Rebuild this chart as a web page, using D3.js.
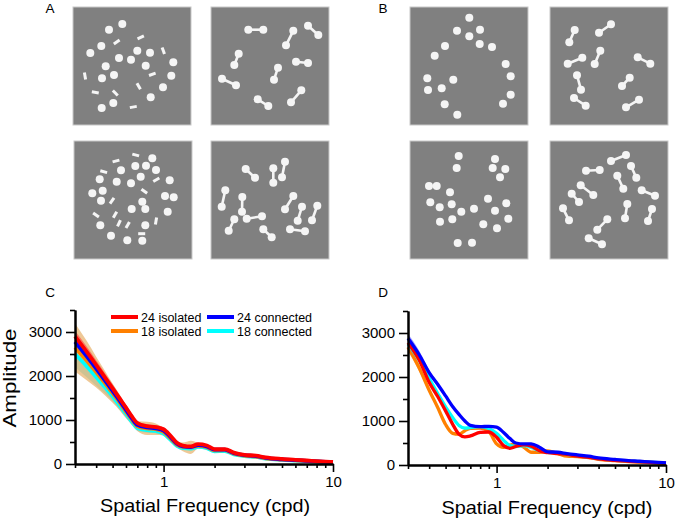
<!DOCTYPE html>
<html><head><meta charset="utf-8">
<script src="https://cdn.jsdelivr.net/npm/d3@7"></script>
<style>
body{margin:0;background:#fff}
text{font-family:"Liberation Sans",Arial,sans-serif;fill:#000}
</style></head>
<body><svg id="fig" width="675" height="520"></svg>
<script>
// ---------- stimulus data (coordinates in a 118-unit square) ----------
const aTopDots = [[49.3,17],[36,22.7],[28.3,39],[17.3,46],[64.3,43.7],[77,45.7],[46,51],[58,52.7],[32.7,59.3],[72.7,58.7],[100.3,55.3],[41,68],[29,71.3],[98.3,68.7],[90,80.3],[77.7,90.3],[40.3,96],[28.7,101]];
const aTopBars = [[43.7,35,-35],[67.7,30.3,-25],[90.3,43.7,70],[12,69,80],[79.3,67.3,-20],[22.3,85.3,10],[42.3,86,45],[65.7,79.3,60],[60.3,100,-10]];
const aTopPairs = [[37.3,22.7,52.3,22.7],[82.3,23.7,75,38.3],[97,18.7,107.3,28],[27.7,46.7,23.3,58],[85,54.7,97,56],[67,60.7,63,72.7],[11,71.7,25,78.3],[90.3,83.3,80,95.3],[46.7,92.3,57.3,99]];
const aBotDots = [[78.3,17.3],[61.3,25],[72,24.7],[47,29.3],[82,29],[25.7,38.3],[42.7,40.7],[57,42.3],[66.7,35.7],[95.7,39.3],[18.3,52.3],[28.7,49.7],[27,59.7],[91,55],[99.7,56.3],[68.3,60.7],[57.7,68],[71.3,68],[93.7,70.7],[26.3,84.3],[71.3,84.3],[37,94.7],[53.3,99.3],[68.3,99.7]];
const aBotBars = [[61.7,14,15],[42,20,-15],[29.7,30.7,15],[82.3,38.7,-30],[70.3,50.3,35],[38,59.7,-55],[22,74,35],[41,73.7,-60],[45,82.3,-65],[53.7,84,-60],[82,80,-80],[67.7,92.7,0]];
const aBotPairs = [[34.7,28,44,36.7],[62.3,27.3,62.3,41.7],[74,20.7,71,36.3],[14.3,49.3,10.7,65.7],[31.3,56,31,70.7],[82.3,55,74,68.3],[91,65.7,86.7,79.7],[106.3,64.7,101,79.3],[23.3,78.3,17.7,89.7],[35.7,77.7,51,75.3],[52.3,88.3,60.7,96.3],[79,88.3,94,90.3]];
const bTopDots = [[59.3,10.7],[47,23.7],[70,22.7],[59.3,29.3],[69.7,37],[82,40],[35,39],[24.7,48.7],[95.7,57],[100.7,69.3],[17.3,71.3],[43.3,72.7],[18,83],[31.7,81.3],[100.7,87.7],[93,96.7],[34.7,97.3],[47.3,107.7]];
const bTopPairs = [[24.7,23,19.3,35.3],[61,17.3,49,25.7],[32.3,50.7,17.7,56.7],[50.3,43.7,44.7,57],[87.7,50.3,100.3,56.7],[27,68.3,31,82.7],[79.7,70.7,72,79],[24,91,35.7,98.7],[89,92.7,76,100.3]];
const bBotDots = [[48.7,15],[46.7,27],[85,18],[82.7,27],[95.3,28],[90,36.3],[19,45],[26.7,45],[40,51.3],[20.3,61.3],[29.7,66.3],[41.7,63.3],[51.3,70.7],[64,67.7],[78,57.7],[85,69.7],[96.3,62.3],[98.3,77.7],[30,80.7],[42.3,78.3],[73.3,83.3],[87,87.3],[47.7,102],[62,101.7]];
const bBotPairs = [[36,29.7,49.7,29],[61,20,76,14],[81,25,86.3,36.7],[67.3,34.7,73.3,47.7],[30.7,44.3,43.3,54],[21.7,52.7,29,61],[91.7,49.3,105,54.7],[13,67.3,19,79.3],[77.3,63,75,77.3],[102,68,98,80],[57.3,78.3,47.3,88.7],[38.7,97.3,52,103.3]];

// ---------- spectrum data ----------
const freq = [0.3,0.35,0.4,0.45,0.5,0.55,0.6,0.65,0.7,0.8,0.9,1.0,1.1,1.2,1.3,1.45,1.6,1.8,2.0,2.3,2.6,3,3.5,4,5,6,7,8,10];
const seriesNames = ["24 isolated","18 isolated","24 connected","18 connected"];
const seriesColors = ["#ff0000","#ff8000","#0000ff","#00ffff"];
const xMajorTicks = [1,10];
const xMinorTicks = [0.3,0.4,0.5,0.6,0.7,0.8,0.9,2,3,4,5,6,7,8,9];
const yMajorTicks = [0,1000,2000,3000];
const yMinorTicks = [500,1500,2500,3500];

// Panel C
const cRed    = [2900,2560,2250,1970,1720,1490,1280,1080,930,860,840,790,640,480,420,400,450,420,340,340,260,210,190,150,115,95,80,65,45];
const cRedSd  = [130,120,110,100,90,80,70,60,50,40,40,40,35,30,30,30,30,25,25,25,20,20,15,15,12,10,10,10,8];
const cOrange = [2650,2360,2090,1840,1610,1400,1190,1010,860,810,790,730,580,440,390,380,415,385,310,315,235,190,170,130,100,82,68,55,38];
const cOrangeSd=[550,450,350,280,220,180,150,120,110,150,130,80,60,60,100,150,70,40,40,40,30,25,20,15,12,10,10,10,8];
const cBlue   = [2780,2460,2170,1900,1660,1440,1230,1040,890,830,810,760,610,460,400,385,430,400,325,325,245,200,180,140,105,88,72,58,40];
const cBlueSd = [100,90,80,75,70,60,55,50,40,35,35,35,30,25,25,25,25,20,20,20,15,15,12,12,10,8,8,8,6];
const cCyan   = [2500,2230,1980,1750,1540,1330,1140,960,820,770,750,690,550,410,360,350,390,360,290,295,220,180,160,125,95,78,64,52,36];
const cCyanSd = [300,250,200,150,120,100,90,80,70,60,50,45,40,35,35,35,30,25,25,20,18,15,12,12,10,8,8,8,6];

// Panel D
const dRed    = [2780,2380,1880,1550,1230,930,700,640,660,740,750,630,440,380,420,460,430,320,280,260,240,200,175,140,105,85,70,58,40];
const dRedSd  = [60,50,40,35,30,25,20,20,20,20,20,20,15,15,15,15,15,12,12,10,10,10,8,8,6,6,5,5,4];
const dOrange = [2680,2200,1700,1300,920,720,700,780,830,840,760,480,400,450,480,400,290,290,320,260,200,190,170,130,100,80,68,55,38];
const dOrangeSd=[90,80,60,50,40,30,25,25,25,25,25,20,15,15,15,15,15,12,12,10,10,10,8,8,6,6,5,5,4];
const dBlue   = [2880,2500,2100,1830,1570,1330,1150,1000,900,870,880,860,740,600,500,480,480,400,300,290,260,230,200,160,125,100,85,70,50];
const dBlueSd = [110,90,60,45,35,30,25,25,20,20,20,20,15,15,15,15,15,12,12,10,10,10,8,8,6,6,5,5,4];
const dCyan   = [2750,2380,1970,1620,1320,1080,900,840,850,870,830,720,560,440,420,440,400,320,290,270,240,210,180,145,110,90,75,62,45];
const dCyanSd = [70,60,50,40,35,30,30,40,40,40,30,20,15,15,15,15,15,12,12,10,10,10,8,8,6,6,5,5,4];

// ---------- drawing ----------
const svg = d3.select("#fig");

function stimulus(x0, y0, dots, bars, pairs) {
  const s = d3.scaleLinear().domain([0,118]).range([0,118]);
  const g = svg.append("g").attr("transform", `translate(${x0},${y0})`);
  g.append("rect").attr("x",0).attr("y",0).attr("width",s(118)).attr("height",s(118))
    .attr("fill","#808080").attr("stroke","#c8c8c8").attr("stroke-width",1);
  const fg = "#f5f5f5";
  g.selectAll("line.p").data(pairs).join("line")
    .attr("x1",d=>s(d[0])).attr("y1",d=>s(d[1])).attr("x2",d=>s(d[2])).attr("y2",d=>s(d[3]))
    .attr("stroke",fg).attr("stroke-width",2.6);
  const ends = pairs.flatMap(d=>[[d[0],d[1]],[d[2],d[3]]]);
  g.selectAll("circle.e").data(ends).join("circle").attr("class","e")
    .attr("cx",d=>s(d[0])).attr("cy",d=>s(d[1])).attr("r",s(4)).attr("fill",fg);
  g.selectAll("circle.d").data(dots).join("circle").attr("class","d")
    .attr("cx",d=>s(d[0])).attr("cy",d=>s(d[1])).attr("r",s(4)).attr("fill",fg);
  g.selectAll("rect.b").data(bars).join("rect").attr("class","b")
    .attr("x",-3.5).attr("y",-1.5).attr("width",7).attr("height",3)
    .attr("transform",d=>`translate(${s(d[0])},${s(d[1])}) rotate(${d[2]})`).attr("fill",fg);
}

stimulus(73,7,aTopDots,aTopBars,[]);
stimulus(211,7,[],[],aTopPairs);
stimulus(74,141,aBotDots,aBotBars,[]);
stimulus(211,141,[],[],aBotPairs);
stimulus(410,7,bTopDots,[],[]);
stimulus(550,7,[],[],bTopPairs);
stimulus(410,141,bBotDots,[],[]);
stimulus(550,141,[],[],bBotPairs);

function label(t,x,y){ svg.append("text").attr("x",x).attr("y",y).attr("text-anchor","middle").attr("font-size",13.5).text(t); }
label("A",50,13); label("B",383,13); label("C",50,297); label("D",383,297);

function spectrum(xr, yr, series, lw, bandOp) {
  const x = d3.scaleLog().domain([0.3,10]).range(xr);
  const y = d3.scaleLinear().domain([0,3500]).range(yr);
  const area = d3.area().x(d=>x(d.f)).y0(d=>y(Math.max(0,d.v-d.sd))).y1(d=>y(d.v+d.sd)).curve(d3.curveMonotoneX);
  const line = d3.line().x(d=>x(d.f)).y(d=>y(d.v)).curve(d3.curveMonotoneX);
  const g = svg.append("g");
  series.forEach(s => {
    const pts = freq.map((f,i)=>({f, v:s.v[i], sd:s.sd[i]}));
    g.append("path").datum(pts).attr("d",area).attr("fill",s.band).attr("opacity",bandOp);
  });
  series.forEach(s => {
    const pts = freq.map((f,i)=>({f, v:s.v[i]}));
    g.append("path").datum(pts).attr("d",line).attr("fill","none").attr("stroke",s.color).attr("stroke-width",lw).attr("stroke-linejoin","round");
  });
  // axes
  const ax = svg.append("g").attr("transform",`translate(0,${yr[0]})`)
    .call(d3.axisBottom(x).tickValues(xMajorTicks).tickFormat(d3.format("d")).tickSize(8).tickPadding(4).tickSizeOuter(0));
  svg.append("g").attr("transform",`translate(0,${yr[0]})`)
    .call(d3.axisBottom(x).tickValues(xMinorTicks).tickFormat("").tickSize(4).tickSizeOuter(0));
  const ay = svg.append("g").attr("transform",`translate(${xr[0]},0)`)
    .call(d3.axisLeft(y).tickValues(yMajorTicks).tickFormat(d3.format("d")).tickSize(9).tickPadding(4).tickSizeOuter(0));
  svg.append("g").attr("transform",`translate(${xr[0]},0)`)
    .call(d3.axisLeft(y).tickValues(yMinorTicks).tickFormat("").tickSize(5).tickSizeOuter(0));
  svg.selectAll(".domain").attr("stroke","#000").attr("stroke-width",2);
  svg.selectAll(".tick line").attr("stroke","#000").attr("stroke-width",1.6);
  [ax,ay].forEach(a=>a.selectAll("text").attr("font-size",15).attr("font-family","'Liberation Sans',Arial,sans-serif"));
  return {x,y};
}

const cSeries = [
  {v:cCyan, sd:cCyanSd, color:seriesColors[3], band:"#7fe8f0"},
  {v:cOrange, sd:cOrangeSd, color:seriesColors[1], band:"#e09a40"},
  {v:cBlue, sd:cBlueSd, color:seriesColors[2], band:"#5a5aff"},
  {v:cRed, sd:cRedSd, color:seriesColors[0], band:"#ff3030"}
];
spectrum([75,333],[464,310],cSeries,3.8,0.55);

const dSeries = [
  {v:dOrange, sd:dOrangeSd, color:seriesColors[1], band:"#ffb060"},
  {v:dCyan, sd:dCyanSd, color:seriesColors[3], band:"#80ffff"},
  {v:dRed, sd:dRedSd, color:seriesColors[0], band:"#ff6060"},
  {v:dBlue, sd:dBlueSd, color:seriesColors[2], band:"#6060ff"}
];
spectrum([408,666],[465,311],dSeries,3.3,0.6);

// axis titles
svg.append("text").attr("transform","translate(16,378) rotate(-90)").attr("text-anchor","middle").attr("font-size",19)
  .attr("textLength",99).attr("lengthAdjust","spacingAndGlyphs").text("Amplitude");
svg.append("text").attr("x",205).attr("y",512).attr("text-anchor","middle").attr("font-size",19)
  .attr("textLength",210).attr("lengthAdjust","spacingAndGlyphs").text("Spatial Frequency (cpd)");
svg.append("text").attr("x",547).attr("y",514).attr("text-anchor","middle").attr("font-size",19)
  .attr("textLength",211).attr("lengthAdjust","spacingAndGlyphs").text("Spatial Frequency (cpd)");

// legend (panel C)
const legendPos = [[111,317],[111,331],[207,317],[207,331]];
const legendOrder = [0,1,2,3];
const lg = svg.append("g");
legendOrder.forEach((k,i)=>{
  const [lx,ly] = legendPos[i];
  lg.append("line").attr("x1",lx).attr("x2",lx+27).attr("y1",ly).attr("y2",ly).attr("stroke",seriesColors[k]).attr("stroke-width",4);
  lg.append("text").attr("x",lx+30).attr("y",ly+4.5).attr("font-size",12.5).text(seriesNames[k]);
});
</script>
</body></html>
